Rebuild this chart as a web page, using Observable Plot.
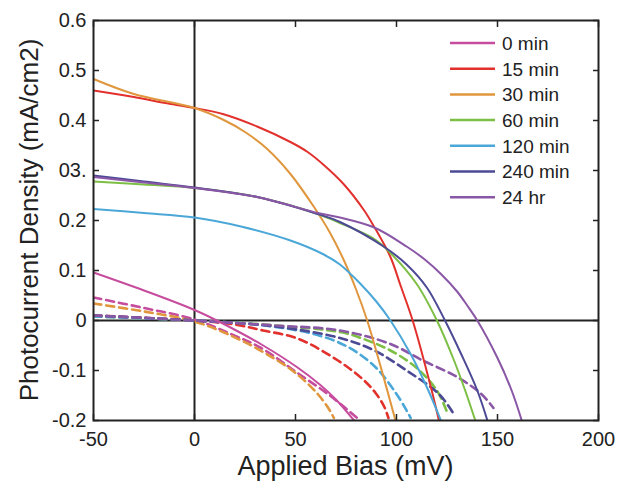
<!DOCTYPE html>
<html>
<head>
<meta charset="utf-8">
<script src="https://cdn.jsdelivr.net/npm/d3@7"></script>
<script src="https://cdn.jsdelivr.net/npm/@observablehq/plot@0.6"></script>
<style>
  body { margin: 0; background: #fff; }
  svg { font-family: "Liberation Sans", Arial, sans-serif; }
</style>
</head>
<body>
<div id="chart"></div>
<script>
// ---- Data (Applied bias in mV, photocurrent density in mA/cm2) ----
const seriesNames = ["0 min", "15 min", "30 min", "60 min", "120 min", "240 min", "24 hr"];
const seriesColors = ["#c64c9e", "#e2312d", "#e0963d", "#7dbf45", "#4aa7d7", "#4d4a95", "#8a56a6"];

// Illuminated (solid) curves
const light0min   = [[-50,0.096],[-25,0.06],[0,0.021],[14,-0.006],[34,-0.05],[51,-0.094],[62,-0.128],[70,-0.158],[79,-0.2]];
const light15min  = [[-50,0.46],[-30,0.447],[-13,0.434],[0,0.425],[14,0.413],[31,0.388],[47.5,0.357],[56,0.337],[64,0.311],[74,0.272],[84,0.22],[89,0.187],[97,0.127],[102,0.07],[108,0],[117,-0.133],[121,-0.2]];
const light30min  = [[-50,0.483],[-30,0.453],[0,0.425],[14,0.402],[25,0.377],[36,0.343],[47.5,0.293],[59,0.228],[67,0.176],[74,0.12],[80,0.062],[85.5,0],[92,-0.09],[99.5,-0.2]];
const light60min  = [[-50,0.278],[-25,0.272],[0,0.265],[31,0.247],[61,0.213],[72,0.195],[89,0.163],[97,0.135],[110,0.073],[120,0],[128,-0.075],[134,-0.14],[139,-0.2]];
const light120min = [[-50,0.223],[-25,0.215],[0,0.206],[23,0.188],[47.5,0.16],[64,0.132],[72,0.112],[82,0.074],[90,0.038],[97,0],[107,-0.067],[115,-0.133],[122,-0.2]];
const light240min = [[-50,0.29],[-25,0.278],[0,0.266],[31,0.247],[61,0.213],[72,0.197],[94,0.147],[105,0.112],[115,0.066],[124,0],[132,-0.067],[140,-0.14],[145,-0.2]];
const light24hr   = [[-50,0.287],[-25,0.276],[0,0.265],[31,0.247],[61,0.215],[72,0.206],[89,0.186],[105,0.148],[114,0.122],[122,0.093],[130,0.058],[135,0.03],[140,0],[150,-0.075],[157,-0.14],[162,-0.2]];

// Dark (dashed) curves
const dark0min   = [[-50,0.046],[-25,0.025],[0,0.002],[18,-0.027],[33,-0.055],[51,-0.105],[67,-0.15],[80.5,-0.195]];
const dark15min  = [[-50,0.01],[0,0],[20,-0.008],[34,-0.02],[51,-0.036],[71,-0.08],[84,-0.12],[90,-0.147],[94,-0.173],[96,-0.195]];
const dark30min  = [[-50,0.034],[-25,0.018],[0,-0.002],[18,-0.03],[34,-0.063],[50,-0.105],[61,-0.147],[67,-0.18],[69,-0.195]];
const dark60min  = [[-50,0.008],[0,0],[40,-0.01],[72,-0.023],[81,-0.033],[97,-0.06],[110,-0.095],[120,-0.14],[125,-0.183]];
const dark120min = [[-50,0.008],[0,0],[30,-0.008],[59,-0.027],[76,-0.053],[90,-0.095],[100,-0.147],[105,-0.18],[107,-0.195]];
const dark240min = [[-50,0.01],[0,0],[40,-0.012],[72,-0.035],[89,-0.06],[105,-0.1],[121,-0.147],[128,-0.185]];
const dark24hr   = [[-50,0.01],[0,0],[40,-0.01],[72,-0.02],[97,-0.047],[113,-0.08],[130,-0.113],[142,-0.147],[148,-0.175]];

const lightCurves = [light0min, light15min, light30min, light60min, light120min, light240min, light24hr];
const darkCurves  = [dark0min, dark15min, dark30min, dark60min, dark120min, dark240min, dark24hr];

const xTicks = [-50, 0, 50, 100, 150, 200];
const xTickLabels = ["-50", "0", "50", "100", "150", "200"];
const yTicks = [-0.2, -0.1, 0, 0.1, 0.2, 0.3, 0.4, 0.5, 0.6];
const yTickLabels = ["-0.2", "-0.1", "0", "0.1", "0.2", "03.", "0.4", "0.5", "0.6"];

const xTitle = "Applied Bias (mV)";
const yTitle = "Photocurrent Density (mA/cm2)";

// ---- Build rows ----
const toRows = (curves, kind) => curves.flatMap((pts, i) =>
  pts.map(([x, y]) => ({x, y, series: seriesNames[i], kind})));
const darkRows = toRows(darkCurves, "dark");
const lightRows = toRows(lightCurves, "light");

const W = 624, H = 485;
const plot = Plot.plot({
  width: W,
  height: H,
  marginLeft: 93,
  marginRight: 26,
  marginTop: 20,
  marginBottom: 65,
  style: {fontFamily: "'Liberation Sans', Arial, sans-serif", background: "#fff", color: "#222"},
  x: {domain: [-50, 200]},
  y: {domain: [-0.2, 0.6]},
  color: {domain: seriesNames, range: seriesColors},
  marks: [
    Plot.ruleX([0], {stroke: "#222", strokeWidth: 2}),
    Plot.ruleY([0], {stroke: "#222", strokeWidth: 2}),
    Plot.line(darkRows, {x: "x", y: "y", z: "series", stroke: "series", strokeWidth: 2.6,
      strokeDasharray: "8,5", curve: "catmull-rom", clip: true}),
    Plot.line(lightRows, {x: "x", y: "y", z: "series", stroke: "series", strokeWidth: 2,
      curve: "catmull-rom", clip: true}),
    // tick labels
    Plot.axisX(xTicks, {tickSize: 0, tickPadding: 11, fontSize: 20, label: null,
      tickFormat: (d) => xTickLabels[xTicks.indexOf(d)]}),
    Plot.axisY(yTicks, {tickSize: 0, tickPadding: 7, fontSize: 20, label: null,
      tickFormat: (d) => yTickLabels[yTicks.indexOf(d)]}),
    // inward ticks on all four sides
    Plot.axisX(xTicks, {anchor: "bottom", tickSize: -6, tickFormat: () => "", label: null, strokeWidth: 1.5}),
    Plot.axisX(xTicks, {anchor: "top", tickSize: -6, tickFormat: () => "", label: null, strokeWidth: 1.5}),
    Plot.axisY(yTicks, {anchor: "left", tickSize: -6, tickFormat: () => "", label: null, strokeWidth: 1.5}),
    Plot.axisY(yTicks, {anchor: "right", tickSize: -6, tickFormat: () => "", label: null, strokeWidth: 1.5}),
    Plot.frame({stroke: "#222", strokeWidth: 2})
  ]
});

document.getElementById("chart").appendChild(plot);

// ---- Axis titles and legend ----
const svg = d3.select(plot);
svg.append("text")
  .attr("x", 93 + (W - 93 - 26) / 2)
  .attr("y", 475)
  .attr("text-anchor", "middle")
  .attr("font-size", 27)
  .attr("fill", "#222")
  .text(xTitle);
svg.append("text")
  .attr("transform", `translate(38, ${20 + (H - 20 - 65) / 2}) rotate(-90)`)
  .attr("text-anchor", "middle")
  .attr("font-size", 26)
  .attr("fill", "#222")
  .text(yTitle);

const legend = svg.append("g").attr("transform", "translate(450, 43)");
seriesNames.forEach((name, i) => {
  const g = legend.append("g").attr("transform", `translate(0, ${i * 25.7})`);
  g.append("line").attr("x1", 0).attr("x2", 45).attr("y1", 0).attr("y2", 0)
    .attr("stroke", seriesColors[i]).attr("stroke-width", 2.5);
  g.append("text").attr("x", 52).attr("y", 0).attr("dy", "0.36em")
    .attr("text-anchor", "start")
    .attr("font-size", 19).attr("fill", "#222").text(name);
});
</script>
</body>
</html>
